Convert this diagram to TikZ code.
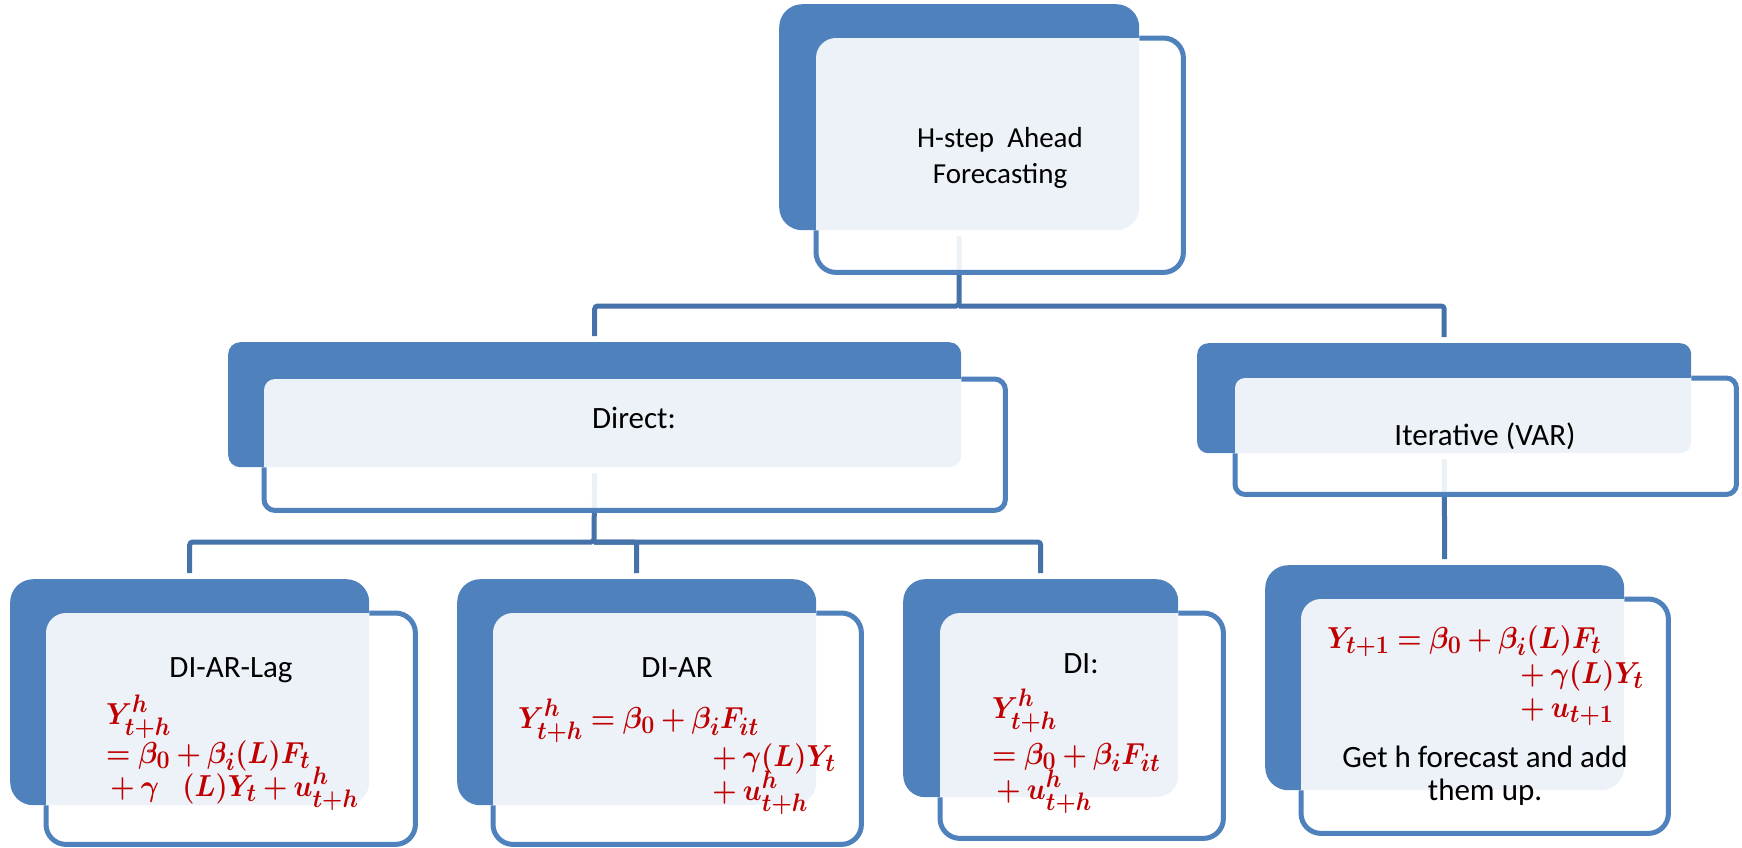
\documentclass[tikz,border=0pt]{standalone}
\usepackage{amsmath, bm}
\usepackage{fontspec}
\setmainfont{Carlito}

\definecolor{boxblue}{HTML}{4F81BD}
\definecolor{linkblue}{HTML}{4672AA}
\definecolor{eqred}{HTML}{C00000}

\newcommand{\bigeq}[1]{\scalebox{1.12}[1.22]{$\bm{#1}$}}

\tikzset{
  darkbox/.style={rectangle, fill=boxblue, inner sep=0pt, anchor=north west},
  linebox/.style={rectangle, fill=white, inner sep=0pt, anchor=north west},
  rim/.style={draw=boxblue, line width=5pt},
  link/.style={draw=linkblue, line width=5pt, rounded corners=3pt},
  veil/.style={fill=white, fill opacity=0.9},
  boxtext/.style={font=\fontsize{31}{37}\selectfont, inner sep=0pt, anchor=base},
  eqline/.style={text=eqred, font=\Huge, inner sep=0pt, anchor=base west},
}

\begin{document}
\begin{tikzpicture}[x=1pt, y=-1pt]
    \fill[white] (0,0) rectangle (1742,847);
    \useasboundingbox (0,0) rectangle (1742,847);

    % Back boxes
    \node[linebox, minimum width=367pt, minimum height=234pt] (topL) at (816,38) {};
    \node[linebox, minimum width=741pt, minimum height=131pt] (dirL) at (264,379) {};
    \node[linebox, minimum width=501pt, minimum height=116pt] (itL) at (1235,378) {};
    \node[linebox, minimum width=369pt, minimum height=231pt] (lagL) at (46,613) {};
    \node[linebox, minimum width=368pt, minimum height=231pt] (arL) at (493,613) {};
    \node[linebox, minimum width=283pt, minimum height=225pt] (diL) at (940,613) {};
    \node[linebox, minimum width=367pt, minimum height=234pt] (sumL) at (1301,599) {};

    % Filled front boxes
    \node[darkbox, rounded corners=23pt, minimum width=360pt, minimum height=226pt] (topD) at (779,4) {};
    \node[darkbox, rounded corners=12pt, minimum width=733pt, minimum height=125pt] (dirD) at (228,342) {};
    \node[darkbox, rounded corners=11pt, minimum width=494pt, minimum height=110pt] (itD) at (1197,343) {};
    \node[darkbox, rounded corners=23pt, minimum width=359pt, minimum height=226pt] (lagD) at (10,579) {};
    \node[darkbox, rounded corners=23pt, minimum width=359pt, minimum height=226pt] (arD) at (457,579) {};
    \node[darkbox, rounded corners=22pt, minimum width=275pt, minimum height=218pt] (diD) at (903,579) {};
    \node[darkbox, rounded corners=23pt, minimum width=359pt, minimum height=225pt] (sumD) at (1265,565) {};

    % Connectors
    \coordinate (busA) at (959,306);
    \coordinate (busB) at (594,542);
    \draw[link, shorten <=6pt, shorten >=6pt] (topD.south) -- (busA) -| (dirD.north);
    \draw[link, shorten >=6pt] (busA) -| (itD.north);
    \draw[link, shorten <=6pt, shorten >=6pt] (dirD.south) -- (busB) -| (lagD.north);
    \draw[link, shorten >=6pt] (busB) -| (arD.north);
    \draw[link, shorten >=6pt] (busB) -| (diD.north);
    \draw[link, shorten <=6pt, shorten >=6pt] (itD.south) -- (sumD.north);

    % Light text areas, then their rims outside the filled boxes
    \foreach \d/\l/\rd/\rl in {topD/topL/23/20, dirD/dirL/12/11, itD/itL/11/10, lagD/lagL/23/20, arD/arL/23/20, diD/diL/22/20, sumD/sumL/23/20} {
        \fill[veil, rounded corners=\rl pt] (\l.north west) rectangle (\l.south east);
        \begin{scope}[even odd rule, rounded corners=\rd pt]
            \clip (-10,-10) -- (1752,-10) -- (1752,857) -- (-10,857) -- cycle (\d.north west) rectangle (\d.south east);
            \draw[rim, rounded corners=\rl pt] (\l.north west) rectangle (\l.south east);
        \end{scope}
    }

    % Box titles
    \node[boxtext, font=\fontsize{29}{35}\selectfont] (topA) at (1000,147) {H-step~~Ahead};
    \node[boxtext, font=\fontsize{29}{35}\selectfont] (topB) at (1000,183) {Forecasting};
    \node[boxtext] (dirT) at (634,428) {Direct:};
    \node[boxtext] (itT) at (1485,445) {Iterative (VAR)};
    \node[boxtext] (lagT) at (231,677) {DI-AR-Lag};
    \node[boxtext] (arT) at (677,677) {DI-AR};
    \node[boxtext] (diT) at (1081,673) {DI:};
    \node[boxtext] (sumA) at (1485,767) {Get h forecast and add};
    \node[boxtext] (sumB) at (1485,800) {them up.};

    % Equations
    \node[eqline] (lagE1) at (106,724) {\bigeq{Y^h_{t+h}}};
    \node[eqline] (lagE2) at (106,763) {\bigeq{=\beta_0+\beta_i(L)F_t}};
    \node[eqline] (lagE3) at (104,796) {\bigeq{{}+\gamma\;\;\;(L)Y_t+u^h_{t+h}}};

    \node[eqline] (arE1) at (518,728) {\bigeq{Y^h_{t+h}=\beta_0+\beta_iF_{it}}};
    \node[eqline] (arE2) at (706,766) {\bigeq{{}+\gamma(L)Y_t}};
    \node[eqline] (arE3) at (706,800) {\bigeq{{}+u^h_{t+h}}};

    \node[eqline] (diE1) at (992,718) {\bigeq{Y^h_{t+h}}};
    \node[eqline] (diE2) at (992,764) {\bigeq{=\beta_0+\beta_iF_{it}}};
    \node[eqline] (diE3) at (990,799) {\bigeq{{}+u^h_{t+h}}};

    \node[eqline] (sumE1) at (1327,648) {\bigeq{Y_{t+1}=\beta_0+\beta_i(L)F_t}};
    \node[eqline] (sumE2) at (1514,683) {\bigeq{{}+\gamma(L)Y_t}};
    \node[eqline] (sumE3) at (1514,717) {\bigeq{{}+u_{t+1}}};
\end{tikzpicture}
\end{document}
